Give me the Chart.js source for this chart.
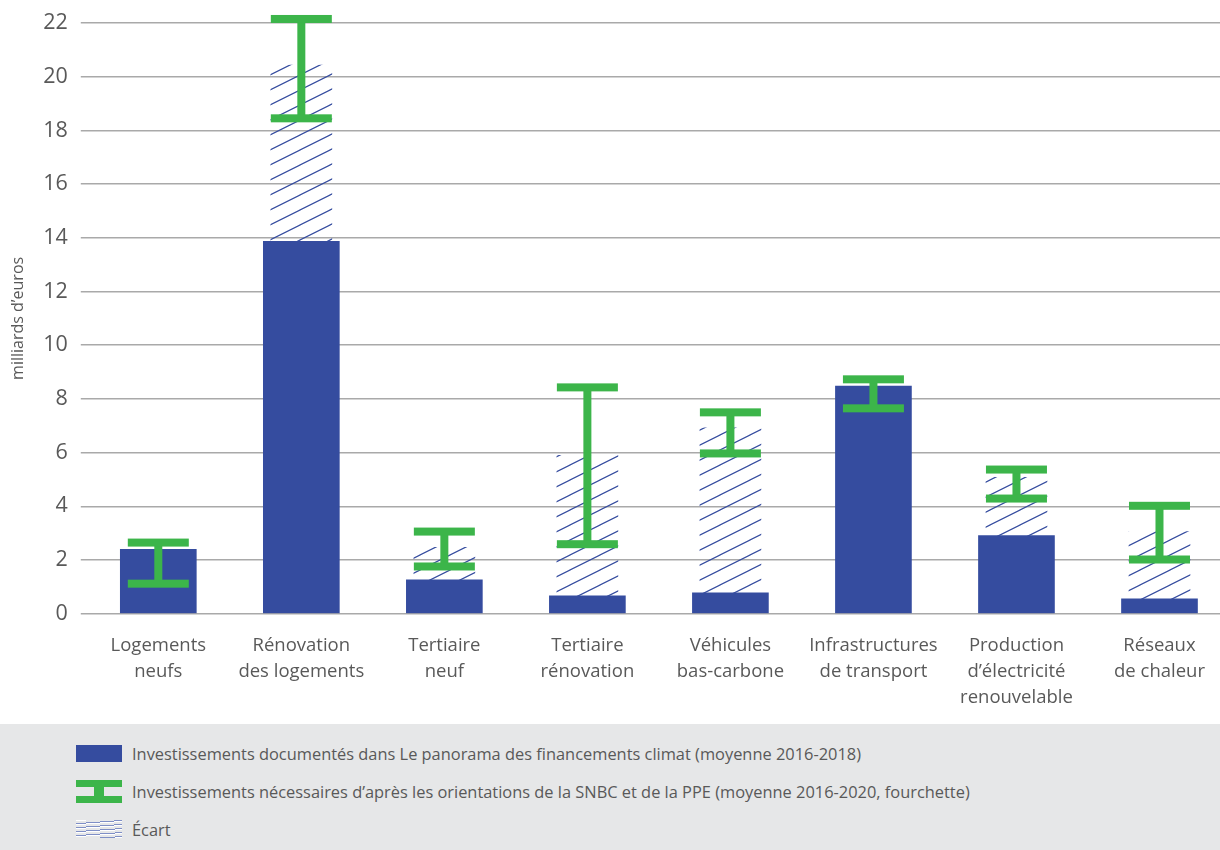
<!DOCTYPE html>
<html lang="fr">
<head>
<meta charset="utf-8">
<title>Investissements climat</title>
<script src="https://cdn.jsdelivr.net/npm/chart.js@4.4.1/dist/chart.umd.min.js"></script>
<style>
  html, body { margin: 0; padding: 0; background: #fff; overflow: hidden; }
  body { width: 1220px; height: 850px; position: relative; font-family: "Open Sans", sans-serif; }
  #wrap { position: absolute; left: 0; top: 0; width: 1232px; height: 724px; }
  #legend { position: absolute; left: 0; top: 724px; width: 1220px; height: 126px; background: #e6e7e8; }
  .row { position: absolute; left: 0; height: 38px; display: flex; align-items: center; }
  .row span { position: absolute; left: 132px; white-space: nowrap; font-size: 16.4px; color: #595959; }
  .ico { position: absolute; left: 76px; width: 46px; }
  .ico.blue { height: 17px; background: #354c9f; }
  .ico.err { height: 23px; }
  .ico.err i { position: absolute; background: #3cb54a; }
  .ico.hatch { height: 18px; background: repeating-linear-gradient(-4deg, #fff 0 1px, #7f8fc6 1px 2px, #e6e7e8 2px 4px); }
</style>
</head>
<body>
<div id="wrap"><canvas id="chart"></canvas></div>
<div id="legend">
  <div class="row" style="top:10px"><div class="ico blue"></div><span>Investissements documentés dans Le panorama des financements climat (moyenne 2016-2018)</span></div>
  <div class="row" style="top:48px"><div class="ico err"><i style="left:0;top:0;width:46px;height:7px"></i><i style="left:18px;top:6px;width:10px;height:11px"></i><i style="left:0;top:16px;width:46px;height:7px"></i></div><span>Investissements nécessaires d’après les orientations de la SNBC et de la PPE (moyenne 2016-2020, fourchette)</span></div>
  <div class="row" style="top:86px"><div class="ico hatch"></div><span>Écart</span></div>
</div>
<script>
const categories = [
  ["Logements", "neufs"],
  ["Rénovation", "des logements"],
  ["Tertiaire", "neuf"],
  ["Tertiaire", "rénovation"],
  ["Véhicules", "bas-carbone"],
  ["Infrastructures", "de transport"],
  ["Production", "d’électricité", "renouvelable"],
  ["Réseaux", "de chaleur"]
];
// milliards d'euros
const documented = [2.4, 13.87, 1.26, 0.67, 0.78, 8.48, 2.91, 0.56];
const needLow = [1.12, 18.45, 1.76, 2.59, 5.97, 7.65, 4.29, 2.02];
const needHigh = [2.65, 22.15, 3.06, 8.43, 7.5, 8.73, 5.37, 4.02];
const gapTop = [null, 20.43, 2.47, 5.9, 6.92, null, 5.08, 3.06];
const yTicks = [0, 2, 4, 6, 8, 10, 12, 14, 16, 18, 20, 22];

const BLUE = "#354c9f";
const GREEN = "#3cb54a";
const GREY = "#595959";

function hatchPattern() {
  const c = document.createElement("canvas");
  c.width = 30; c.height = 15;
  const g = c.getContext("2d");
  g.strokeStyle = BLUE;
  g.lineWidth = 1.2;
  g.beginPath();
  g.moveTo(-4, 17); g.lineTo(34, -2);
  g.moveTo(-34, 17); g.lineTo(4, -2);
  g.moveTo(26, 17); g.lineTo(64, -2);
  g.stroke();
  return g.createPattern(c, "repeat");
}

const gapBars = gapTop.map((v, i) => (v === null ? null : [documented[i], v]));

const errorBars = {
  id: "errorBars",
  afterDatasetsDraw(chart) {
    const { ctx, scales: { x, y } } = chart;
    ctx.save();
    ctx.fillStyle = GREEN;
    needHigh.forEach((hi, i) => {
      const cx = x.getPixelForValue(i);
      const yH = y.getPixelForValue(hi);
      const yL = y.getPixelForValue(needLow[i]);
      ctx.fillRect(cx - 4, yH, 8, yL - yH);
      ctx.fillRect(cx - 30.5, yH - 4, 61, 8);
      ctx.fillRect(cx - 30.5, yL - 4, 61, 8);
    });
    ctx.restore();
  }
};

new Chart(document.getElementById("chart"), {
  type: "bar",
  data: {
    labels: categories,
    datasets: [
      {
        label: "Écart",
        data: gapBars,
        backgroundColor: hatchPattern(),
        barThickness: 61,
        grouped: false,
        order: 2
      },
      {
        label: "Investissements documentés",
        data: documented,
        backgroundColor: BLUE,
        barThickness: 76,
        grouped: false,
        order: 1
      }
    ]
  },
  options: {
    responsive: true,
    maintainAspectRatio: false,
    animation: false,
    layout: { padding: { left: 4, right: 1, top: 23, bottom: 2 } },
    plugins: {
      legend: { display: false },
      tooltip: { enabled: false }
    },
    scales: {
      x: {
        grid: { display: false },
        border: { display: false },
        ticks: {
          color: GREY,
          font: { family: "Open Sans", size: 18.5, lineHeight: 1.41 },
          padding: 11,
          maxRotation: 0,
          autoSkip: false
        }
      },
      y: {
        min: 0,
        max: 22,
        afterBuildTicks(axis) { axis.ticks = yTicks.map(v => ({ value: v })); },
        afterFit(axis) { axis.paddingTop = 0; axis.paddingBottom = 0; },
        border: { display: false },
        grid: { color: "#a9a9a9", lineWidth: 1.5, tickLength: 6 },
        ticks: {
          color: GREY,
          font: { family: "Open Sans", size: 21.5 },
          padding: 13
        },
        title: {
          display: true,
          text: "milliards d’euros",
          color: GREY,
          font: { family: "Open Sans", size: 16 },
          padding: { top: 5, bottom: 2 }
        }
      }
    }
  },
  plugins: [errorBars]
});
</script>
</body>
</html>
